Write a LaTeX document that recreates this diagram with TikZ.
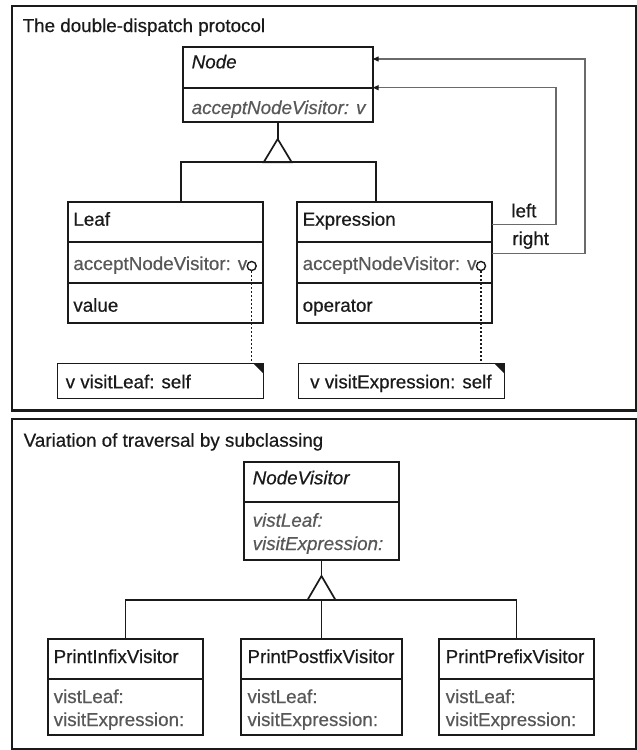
\documentclass[tikz,border=0pt]{standalone}
\usepackage{fontspec}
\setmainfont{Liberation Sans}[RawFeature={embolden=0.5}]
\usetikzlibrary{arrows.meta}
\definecolor{ink}{HTML}{1A1A1A}
\definecolor{greytext}{HTML}{585858}
\definecolor{wire}{HTML}{6A6A6A}

\begin{document}
\begin{tikzpicture}[x=1pt,y=-1pt,
  font=\fontsize{18.8}{22}\selectfont,
  panel/.style={draw=ink, line width=2.2pt},
  classbox/.style={draw=ink, line width=1.7pt, anchor=north west, inner sep=0pt, outer sep=0pt},
  notebox/.style={classbox, line width=1.6pt},
  divider/.style={draw=ink, line width=1.7pt},
  link/.style={draw=ink, line width=1.7pt},
  assoc/.style={draw=wire, line width=1.3pt, -{Triangle[length=6pt,width=5pt,color=ink]}},
  txt/.style={anchor=base west, inner sep=0pt, text=ink},
  optxt/.style={txt, text=greytext},
  ittxt/.style={font=\fontsize{18.8}{22}\selectfont\itshape},
  joint/.style={draw=ink, circle, minimum size=9pt, inner sep=0pt, line width=1.4pt, fill=white},
  traceline/.style={draw=ink, line width=1.2pt, dash pattern=on 2pt off 2pt}
]
\useasboundingbox[fill=white] (0,0) rectangle (637,750);

% ---------------- upper panel: double dispatch ----------------
\draw[panel] (11.7,5.7) rectangle (635.7,410.5);
\node[txt] (title1) at (22.5,32) {The double-dispatch protocol};

% abstract class Node
\node[classbox, minimum width=190pt, minimum height=75pt] (node) at (182.7,46.7) {};
\draw[divider] ([yshift=-41pt]node.north west) -- ([yshift=-41pt]node.north east);
\node[txt, ittxt] (nodename) at (191.5,68.3) {Node};
\node[optxt, ittxt] (nodeop) at (191.5,114) {acceptNodeVisitor: v};

% class Leaf
\node[classbox, minimum width=195pt, minimum height=120.4pt] (leaf) at (68.3,202.3) {};
\draw[divider] ([yshift=-40pt]leaf.north west) -- ([yshift=-40pt]leaf.north east);
\draw[divider] ([yshift=-80.4pt]leaf.north west) -- ([yshift=-80.4pt]leaf.north east);
\node[txt] (leafname) at (73.2,225.7) {Leaf};
\node[optxt] (leafop) at (73.2,270) {acceptNodeVisitor: v};
\node[txt] (leafattr) at (73.2,311.7) {value};

% class Expression
\node[classbox, minimum width=195pt, minimum height=120.4pt] (expr) at (297.3,202.3) {};
\draw[divider] ([yshift=-40pt]expr.north west) -- ([yshift=-40pt]expr.north east);
\draw[divider] ([yshift=-80.4pt]expr.north west) -- ([yshift=-80.4pt]expr.north east);
\node[txt] (exprname) at (302.5,225.7) {Expression};
\node[optxt] (exprop) at (302.5,270) {acceptNodeVisitor: v};
\node[txt] (exprattr) at (302.5,311.7) {operator};

% generalization Node <- Leaf, Expression
\coordinate (ntip) at (277.7,139);
\coordinate (nbar) at (277.7,162.3);
\coordinate (leafjoin) at (181,202.3);
\coordinate (exprjoin) at (375.7,202.3);
\draw[link] (node.south) -- (ntip);
\draw[link, line join=miter] (ntip) -- ++(-14,23.3) -- ++(28,0) -- cycle;
\draw[link] (leafjoin) |- (nbar) -| (exprjoin);

% children of Expression point back to Node
\coordinate (leftbend) at (556,87.7);
\coordinate (rightbend) at (585,59);
\draw[assoc] ([yshift=-22pt]expr.north east) -| (leftbend) -- ([yshift=-41pt]node.north east);
\draw[assoc] ([yshift=-51pt]expr.north east) -| (rightbend) -- ([yshift=-12.3pt]node.north east);
\node[txt] (leftlbl) at (511.2,217.3) {left};
\node[txt] (rightlbl) at (512.2,245) {right};

% method bodies as notes
\node[notebox, minimum width=206pt, minimum height=35pt] (leafnote) at (57.3,363.3) {};
\fill[ink] ([xshift=-10pt]leafnote.north east) -- (leafnote.north east) -- ([yshift=-10pt]leafnote.north east) -- cycle;
\node[txt] (leafcode) at (65.5,388.3) {v visitLeaf: self};

\node[notebox, minimum width=206pt, minimum height=35pt] (exprnote) at (298.3,363.3) {};
\fill[ink] ([xshift=-10pt]exprnote.north east) -- (exprnote.north east) -- ([yshift=-10pt]exprnote.north east) -- cycle;
\node[txt] (exprcode) at (310,388.3) {v visitExpression: self};

\node[joint] (leafjoint) at (251.7,266) {};
\node[joint] (exprjoint) at (481,266) {};
\draw[traceline] (leafjoint.south) -- (leafnote.north -| leafjoint.south);
\draw[traceline] (exprjoint.south) -- (exprnote.north -| exprjoint.south);

% ---------------- lower panel: visitor subclasses ----------------
\draw[panel] (11.7,419.3) rectangle (635.7,748.6);
\node[txt] (title2) at (23.5,446.7) {Variation of traversal by subclassing};

\node[classbox, minimum width=155.6pt, minimum height=98.3pt] (nv) at (243.7,461.7) {};
\draw[divider] ([yshift=-40.6pt]nv.north west) -- ([yshift=-40.6pt]nv.north east);
\node[txt, ittxt] (nvname) at (252.5,484.3) {NodeVisitor};
\node[optxt, ittxt] (nvop1) at (252.5,526.7) {vistLeaf:};
\node[optxt, ittxt] (nvop2) at (252.5,550) {visitExpression:};

\node[classbox, minimum width=155.2pt, minimum height=96pt] (infix) at (47.9,639.3) {};
\draw[divider] ([yshift=-39.7pt]infix.north west) -- ([yshift=-39.7pt]infix.north east);
\node[txt] (infixname) at (53.5,663) {PrintInfixVisitor};
\node[optxt] (infixop1) at (53.5,703) {vistLeaf:};
\node[optxt] (infixop2) at (53.5,726) {visitExpression:};

\node[classbox, minimum width=161.6pt, minimum height=96pt] (postfix) at (240.7,639.3) {};
\draw[divider] ([yshift=-39.7pt]postfix.north west) -- ([yshift=-39.7pt]postfix.north east);
\node[txt] (postfixname) at (247.3,663) {PrintPostfixVisitor};
\node[optxt] (postfixop1) at (247.3,703) {vistLeaf:};
\node[optxt] (postfixop2) at (247.3,726) {visitExpression:};

\node[classbox, minimum width=155.5pt, minimum height=96pt] (prefix) at (438.7,639.3) {};
\draw[divider] ([yshift=-39.7pt]prefix.north west) -- ([yshift=-39.7pt]prefix.north east);
\node[txt] (prefixname) at (445.5,663) {PrintPrefixVisitor};
\node[optxt] (prefixop1) at (445.5,703) {vistLeaf:};
\node[optxt] (prefixop2) at (445.5,726) {visitExpression:};

% generalization NodeVisitor <- the three printers
\coordinate (vtip) at (321.5,576);
\coordinate (vbar) at (321.5,600);
\draw[link] (nv.south) -- (vtip);
\draw[link, line join=miter] (vtip) -- ++(-14,24) -- ++(28,0) -- cycle;
\draw[link] (infix.north) |- (vbar) -| (prefix.north);
\draw[link] (vbar) -- (postfix.north);
\end{tikzpicture}
\end{document}
